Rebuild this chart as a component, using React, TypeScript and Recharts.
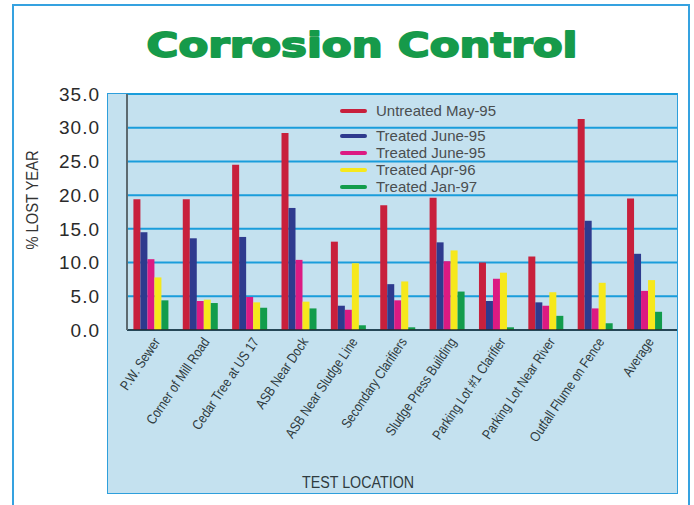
import { BarChart, Bar, XAxis, YAxis, CartesianGrid } from "recharts";

const locations = [
  "P.W. Sewer",
  "Corner of Mill Road",
  "Cedar Tree at US 17",
  "ASB Near Dock",
  "ASB Near Sludge Line",
  "Secondary Clarifiers",
  "Sludge Press Building",
  "Parking Lot #1 Clarifier",
  "Parking Lot Near River",
  "Outfall Flume on Fence",
  "Average",
];

const untreatedMay95 = [19.4, 19.4, 24.5, 29.2, 13.1, 18.5, 19.6, 10.0, 10.9, 31.3, 19.5];
const treatedJune95a = [14.5, 13.6, 13.8, 18.1, 3.6, 6.8, 13.0, 4.3, 4.1, 16.2, 11.3];
const treatedJune95b = [10.5, 4.3, 4.9, 10.4, 3.0, 4.4, 10.2, 7.6, 3.6, 3.2, 5.8];
const treatedApr96 = [7.8, 4.5, 4.1, 4.2, 9.9, 7.2, 11.8, 8.5, 5.6, 7.0, 7.4];
const treatedJan97 = [4.4, 4.0, 3.3, 3.2, 0.7, 0.4, 5.7, 0.4, 2.1, 1.0, 2.7];

const yTicks = [0, 5, 10, 15, 20, 25, 30, 35];
const edgeTicks = [0, 1, 2, 3, 4, 5, 6, 7, 8, 9, 10, 11];

const series = [
  { key: "u95", name: "Untreated May-95", values: untreatedMay95, color: "#c8203c" },
  { key: "t95a", name: "Treated June-95", values: treatedJune95a, color: "#2e3a8e" },
  { key: "t95b", name: "Treated June-95", values: treatedJune95b, color: "#dc1a82" },
  { key: "t96", name: "Treated Apr-96", values: treatedApr96, color: "#f6e81c" },
  { key: "t97", name: "Treated Jan-97", values: treatedJan97, color: "#129c4c" },
];

const data = locations.map((loc, i) => {
  const row: Record<string, string | number> = { loc, edge: i + 0.5 };
  series.forEach((s) => (row[s.key] = s.values[i]));
  return row;
});

const sans = "'Liberation Sans', Arial, sans-serif";

function LocationTick({ x, y, payload }: { x?: number; y?: number; payload?: { value: string } }) {
  return (
    <g transform={`translate(${(x ?? 0) + 5},${(y ?? 0) + 9})`}>
      <text
        textAnchor="end"
        dy="0.35em"
        transform="rotate(-56) scale(0.84,1)"
        fontSize={14}
        fontFamily={sans}
        fill="#2f3b40"
      >
        {payload?.value}
      </text>
    </g>
  );
}

// legend drawn outside the chart so it does not eat plot space
function LegendBox() {
  return (
    <div style={{ position: "absolute", left: 340, top: 102, fontFamily: sans, fontSize: 15, color: "#4a4e50" }}>
      {series.map((s, i) => (
        <div
          key={s.key}
          style={{ display: "flex", alignItems: "center", height: 17, marginBottom: i === 0 ? 8 : 0 }}
        >
          <span style={{ width: 27, height: 4, background: s.color, borderRadius: 2, marginRight: 9 }} />
          <span>{s.name}</span>
        </div>
      ))}
    </div>
  );
}

export default function App() {
  return (
    <div style={{ position: "absolute", left: 0, top: 0, width: 694, height: 505, background: "#fff", overflow: "hidden" }}>
      <div
        style={{
          position: "absolute",
          left: 12,
          top: 4,
          width: 678,
          height: 520,
          border: "2px solid #35a2e0",
          boxSizing: "border-box",
        }}
      />
      <div
        style={{
          position: "absolute",
          left: 107,
          top: 93,
          width: 571,
          height: 401,
          background: "#c4e1ef",
          border: "1.5px solid #2e9fdc",
          boxSizing: "border-box",
        }}
      />
      <svg width={694} height={505} style={{ position: "absolute", left: 0, top: 0 }}>
        <text
          x={362}
          y={57}
          textAnchor="middle"
          fontSize={34}
          fontWeight="bold"
          fontFamily="'DejaVu Sans', sans-serif"
          fill="#169a4a"
          stroke="#169a4a"
          strokeWidth={1.8}
          strokeLinejoin="round"
          textLength={431}
          lengthAdjust="spacingAndGlyphs"
        >
          Corrosion Control
        </text>
        <text
          transform="translate(38,200) rotate(-90) scale(0.92,1)"
          textAnchor="middle"
          fontSize={16}
          fontFamily={sans}
          fill="#333"
        >
          % LOST YEAR
        </text>
        <text
          transform="translate(358,488) scale(0.84,1)"
          textAnchor="middle"
          fontSize={17}
          fontFamily={sans}
          fill="#2f3b40"
        >
          TEST LOCATION
        </text>
      </svg>
      <div style={{ position: "absolute", left: 0, top: 0 }}>
        <BarChart
          width={694}
          height={505}
          data={data}
          margin={{ top: 94, right: 17, left: 0, bottom: 173 }}
          barCategoryGap="13%"
          barGap={0}
        >
          <CartesianGrid xAxisId="cat" vertical={false} stroke="#1a9ddb" strokeWidth={2} />
          <XAxis
            xAxisId="cat"
            dataKey="loc"
            height={1}
            interval={0}
            tickSize={0}
            tickMargin={0}
            tickLine={false}
            axisLine={{ stroke: "#2a2a2a", strokeWidth: 1.5 }}
            tick={<LocationTick />}
            padding={{ left: 0, right: 7 }}
          />
          <XAxis
            xAxisId="edges"
            dataKey="edge"
            type="number"
            domain={[0, 11]}
            ticks={edgeTicks}
            height={1}
            tick={false}
            tickSize={6}
            axisLine={false}
            tickLine={{ stroke: "#2a2a2a", strokeWidth: 1.5 }}
            padding={{ left: 0, right: 7 }}
          />
          <YAxis
            width={127}
            domain={[0, 35]}
            ticks={yTicks}
            interval={0}
            tickFormatter={(v: number) => v.toFixed(1)}
            tickLine={false}
            tickSize={0}
            tickMargin={27}
            axisLine={{ stroke: "#5c6a70", strokeWidth: 2 }}
            tick={{ fontSize: 19, fill: "#2a2a2a", fontFamily: sans, letterSpacing: 1 }}
          />
          {series.map((s) => (
            <Bar
              key={s.key}
              xAxisId="cat"
              dataKey={s.key}
              name={s.name}
              fill={s.color}
              isAnimationActive={false}
            />
          ))}
        </BarChart>
      </div>
      <LegendBox />
    </div>
  );
}
